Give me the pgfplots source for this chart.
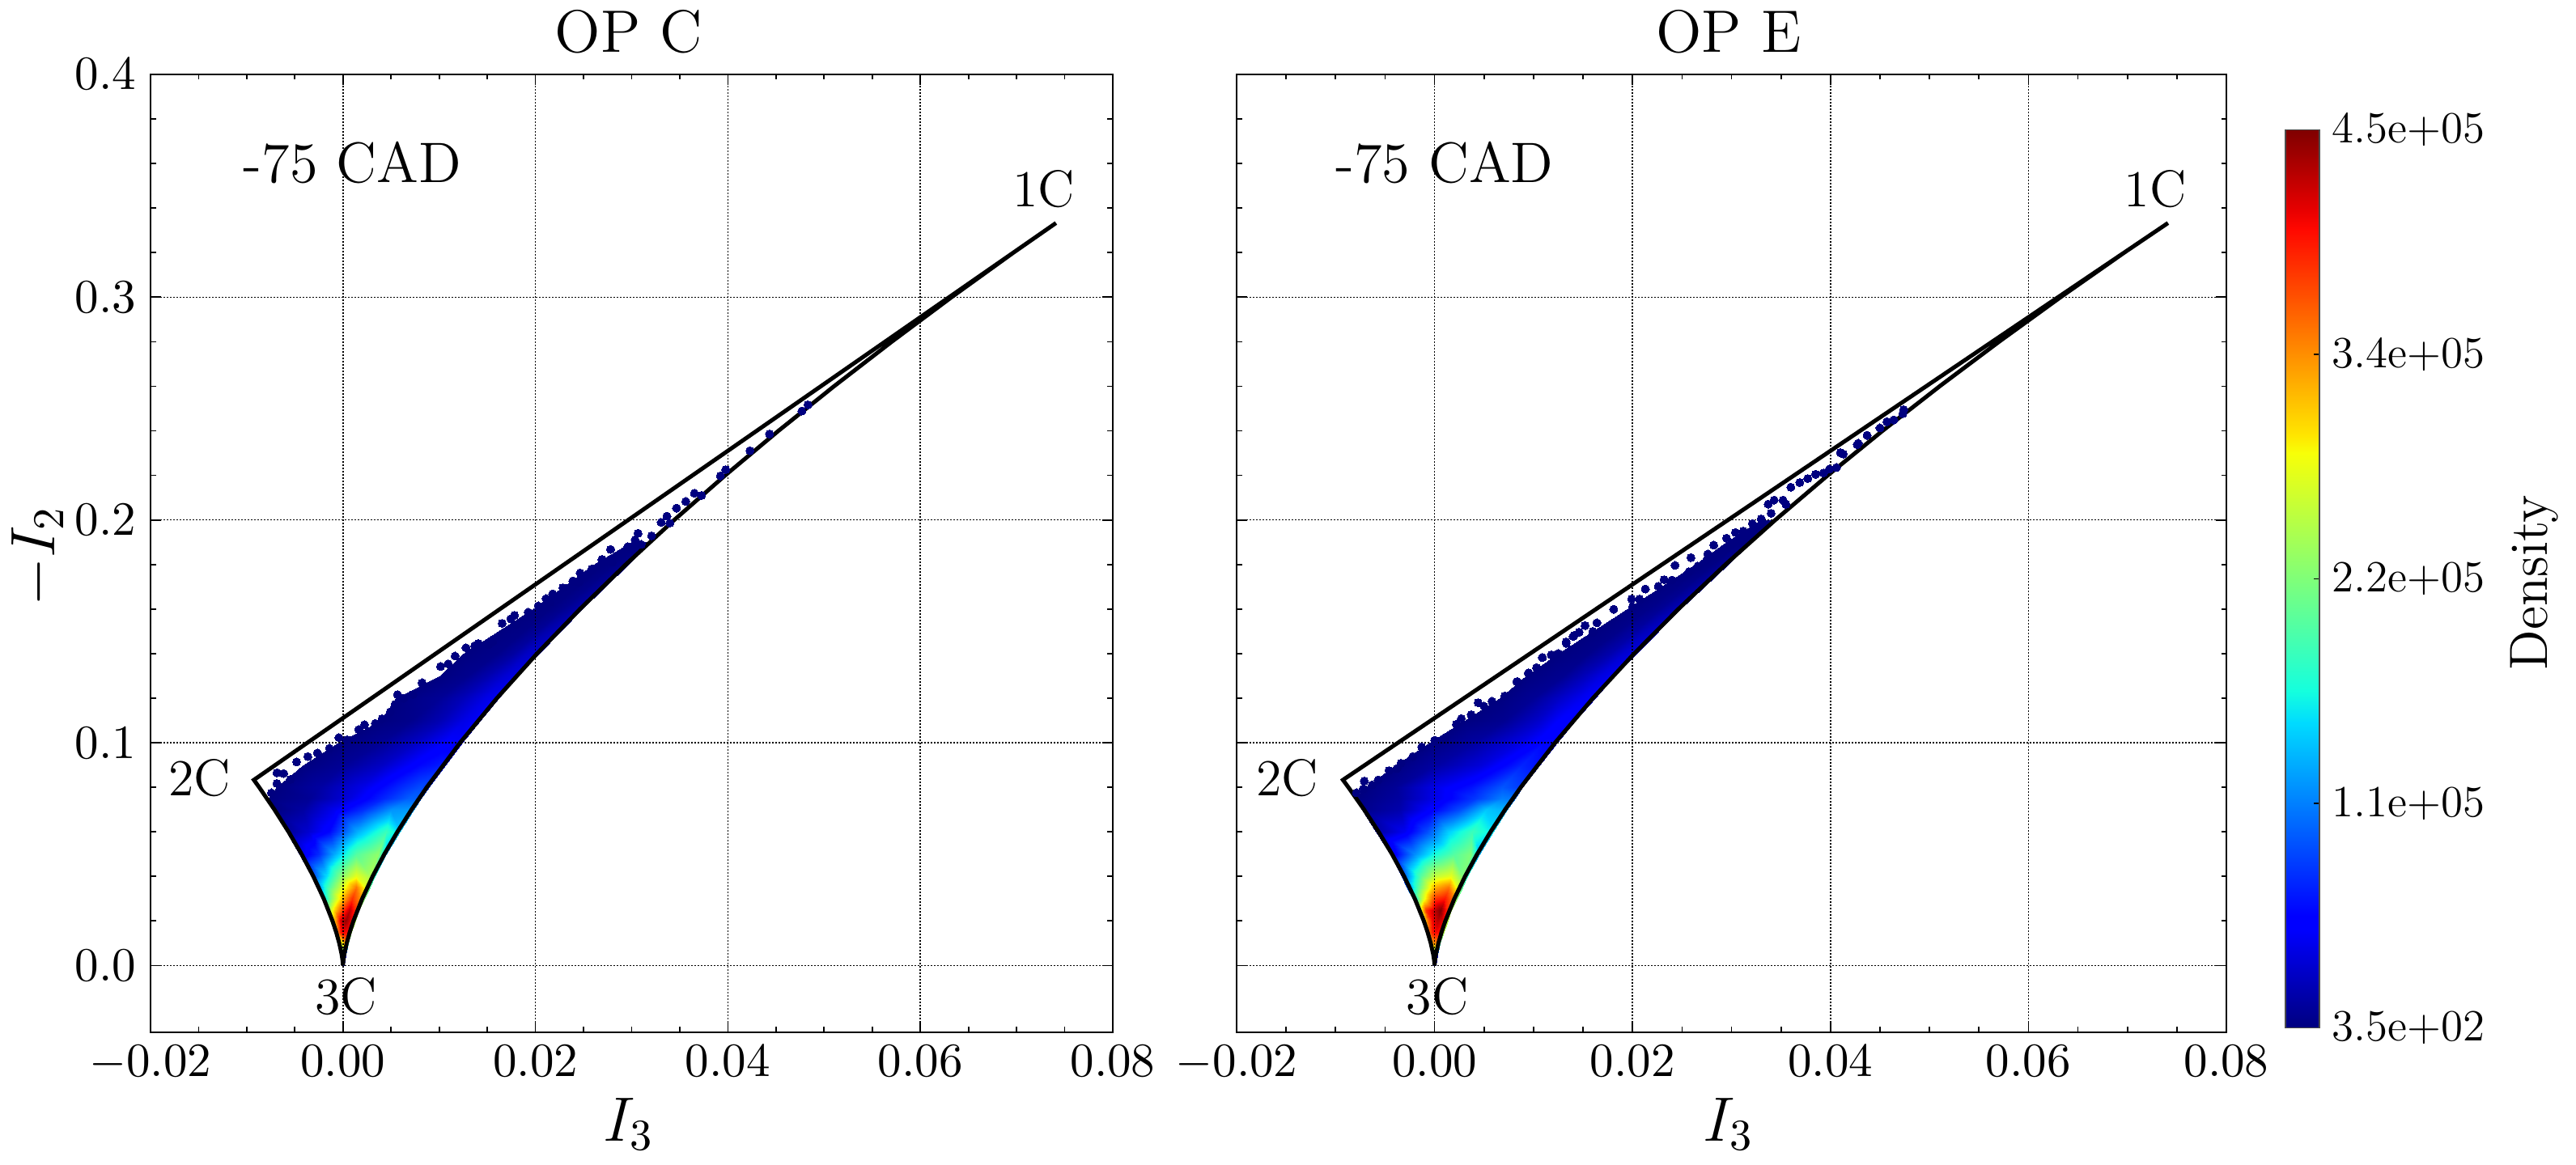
\RequirePackage{fix-cm}
\documentclass[border=0pt]{standalone}
\usepackage{pgfplots}
\pgfplotsset{compat=1.18}
\definecolor{cloud}{rgb}{0,0,0.5}
\newcommand{\fs}[1]{\fontsize{#1}{#1}\selectfont}
\pgfplotsset{colormap={mpljet}{rgb(0pt)=(0,0,0.5); rgb(11pt)=(0,0,1); rgb(12.5pt)=(0,0,1); rgb(34pt)=(0,0.86,1); rgb(37.5pt)=(0.08,1,0.87); rgb(64pt)=(0.97,1,0.03); rgb(66pt)=(1,0.9,0); rgb(89pt)=(1,0.03,0); rgb(91pt)=(0.91,0,0); rgb(100pt)=(0.5,0,0)}}
\pgfplotsset{panel/.style={
  scale only axis, height=236.8pt, xmin=-0.02, xmax=0.08, ymin=-0.03, ymax=0.4,
  scaled x ticks=false, scaled y ticks=false,
  xtick={-0.02,0,0.02,0.04,0.06,0.08},
  xticklabels={$-0.02$,$0.00$,$0.02$,$0.04$,$0.06$,$0.08$},
  ytick={0,0.1,0.2,0.3,0.4},
  minor x tick num=3, minor y tick num=4,
  tick align=inside, tick pos=both,
  major tick length=2.6pt, minor tick length=1.3pt,
  every tick/.style={black,line width=0.35pt},
  axis line style={line width=0.4pt},
  grid=major, major grid style={black,line width=0.3pt,dash pattern=on 0.4pt off 0.4pt},
  axis on top,
  tick label style={font=\fs{11.8}},
  x tick label style={yshift=0.2pt},
  colormap name=mpljet, point meta min=350, point meta max=450000,
  xlabel={$I_3$}, xlabel style={font=\fs{15.5},at={(axis description cs:0.497,-0.1132)},anchor=base},
  every axis title shift=0pt,
  title style={font=\fs{14.8},at={(axis description cs:0.497,1.0228)},anchor=base},
}, cloudmarks/.style={only marks, mark=*, mark size=1pt, cloud, mark options={draw=cloud,fill=cloud,line width=0pt}},
 mesh1/.style={surf, shader=interp, mesh/cols=6, point meta=explicit},
 bound/.style={black, line width=1pt, line join=miter, no marks, forget plot}}
\newcommand{\boundary}{\addplot[bound] coordinates {
 (0,0) (-0.0000344,0.002) (-0.000136,0.005) (-0.000385,0.01) (-0.000707,0.015) (-0.001089,0.02) (-0.002,0.03) (-0.003079,0.04) (-0.004303,0.05) (-0.005657,0.06) (-0.007128,0.07) (-0.008709,0.08) (-0.00926,0.0833)
 (0.0741,0.3333)
 (0.069675,0.32) (0.063246,0.30) (0.057027,0.28) (0.051028,0.26) (0.045255,0.24) (0.039717,0.22) (0.034427,0.20) (0.029394,0.18) (0.024634,0.16) (0.020162,0.14) (0.016,0.12) (0.012172,0.10) (0.008709,0.08) (0.007128,0.07) (0.005657,0.06) (0.004303,0.05) (0.003079,0.04) (0.002,0.03) (0.001089,0.02) (0.000707,0.015) (0.000385,0.01) (0.000136,0.005) (0.0000344,0.002) (0,0)};}
\newcommand{\panellabels}{
\node[font=\fs{14.1}] at (axis cs:0.0010,0.3602) {-75 CAD};
\node[font=\fs{12.8}] at (axis cs:0.0728,0.3484) {1C};
\node[font=\fs{12.8}] at (axis cs:-0.0149,0.0842) {2C};
\node[font=\fs{12.8}] at (axis cs:0.0003,-0.0140) {3C};
}
\begin{document}
\begin{tikzpicture}
\path[use as bounding box] (0,0) rectangle (636.6pt,288pt);
\begin{axis}[panel, width=237.8pt, at={(37.2pt,32.8pt)}, anchor=south west, title={OP C},
  yticklabels={$0.0$,$0.1$,$0.2$,$0.3$,$0.4$}]
\addplot[mesh1] table[row sep=\\,x=x,y=y,meta=d]{x y d\\
-0.0001 0 22500\\ -0.00006 0 22500\\ -0.00002 0 22500\\ 0.00002 0 22500\\ 0.00006 0 22500\\ 0.0001 0 22500\\
-0.0003 0.005 54000\\ -0.00015 0.005 180000\\ -0.00005 0.005 180000\\ 0.00005 0.005 180000\\ 0.00015 0.005 202500\\ 0.0003 0.005 67500\\
-0.00055 0.01 157500\\ -0.0003 0.01 270000\\ -0.0001 0.01 292500\\ 0.0001 0.01 315000\\ 0.0003 0.01 337500\\ 0.00055 0.01 202500\\
-0.0009 0.015 225000\\ -0.0005 0.015 360000\\ -0.0002 0.015 396000\\ 0.0001 0.015 405000\\ 0.0005 0.015 396000\\ 0.0009 0.015 247500\\
-0.0013 0.02 247500\\ -0.0007 0.02 337500\\ -0.0002 0.02 418500\\ 0.0003 0.02 441000\\ 0.0008 0.02 414000\\ 0.0013 0.02 247500\\
-0.00165 0.025 225000\\ -0.0009 0.025 306000\\ 0 0.025 382500\\ 0.0007 0.025 427500\\ 0.00125 0.025 382500\\ 0.00165 0.025 247500\\
-0.0022 0.03 135000\\ -0.0012 0.03 234000\\ 0 0.03 324000\\ 0.00098 0.03 382500\\ 0.00182 0.03 337500\\ 0.0022 0.03 225000\\
-0.0028 0.035 99000\\ -0.0017 0.035 189000\\ 0 0.035 279000\\ 0.0014 0.035 351000\\ 0.00238 0.035 279000\\ 0.0028 0.035 202500\\
-0.0033 0.04 81000\\ -0.0017 0.04 157500\\ -0.0003 0.04 225000\\ 0.0014 0.04 279000\\ 0.0028 0.04 247500\\ 0.0033 0.04 180000\\
-0.0045 0.05 36000\\ -0.0025 0.05 76500\\ -0.0008 0.05 135000\\ 0.0014 0.05 202500\\ 0.0036 0.05 234000\\ 0.0045 0.05 135000\\
-0.0059 0.06 9000\\ -0.0036 0.06 31500\\ -0.0014 0.06 58500\\ 0.0015 0.06 135000\\ 0.0045 0.06 189000\\ 0.0059 0.06 148500\\
-0.0073 0.07 350\\ -0.0042 0.07 13500\\ -0.0008 0.07 45000\\ 0.0020 0.07 76500\\ 0.0050 0.07 121500\\ 0.0073 0.07 126000\\
-0.0078 0.075 350\\ -0.0035 0.075 9000\\ 0.0005 0.075 36000\\ 0.0041 0.075 72000\\ 0.0068 0.075 99000\\ 0.0081 0.075 99000\\
-0.0069 0.08 350\\ -0.0024 0.08 13500\\ 0.0020 0.08 40500\\ 0.0062 0.08 76500\\ 0.0080 0.08 90000\\ 0.0089 0.08 81000\\
-0.0042 0.09 350\\ 0 0.09 9000\\ 0.0040 0.09 27000\\ 0.0080 0.09 58500\\ 0.0100 0.09 67500\\ 0.0106 0.09 63000\\
-0.0005 0.10 350\\ 0.0040 0.10 9000\\ 0.0075 0.10 27000\\ 0.0105 0.10 49500\\ 0.0120 0.10 49500\\ 0.0124 0.10 45000\\
0.0039 0.11 350\\ 0.0070 0.11 5000\\ 0.0100 0.11 20000\\ 0.0125 0.11 40000\\ 0.0138 0.11 47000\\ 0.0142 0.11 43000\\
0.0055 0.12 350\\ 0.0100 0.12 9000\\ 0.0125 0.12 22500\\ 0.0148 0.12 40500\\ 0.0158 0.12 45000\\ 0.0162 0.12 40500\\
0.0101 0.13 350\\ 0.0130 0.13 6000\\ 0.0150 0.13 18000\\ 0.0168 0.13 33000\\ 0.0178 0.13 38000\\ 0.0182 0.13 34000\\
0.0125 0.14 350\\ 0.0160 0.14 4500\\ 0.0177 0.14 13500\\ 0.0190 0.14 27000\\ 0.0200 0.14 31500\\ 0.0204 0.14 27000\\
0.0197 0.16 350\\ 0.0215 0.16 2000\\ 0.0228 0.16 6700\\ 0.0238 0.16 13500\\ 0.0245 0.16 18000\\ 0.0248 0.16 15000\\
0.0260 0.18 350\\ 0.0270 0.18 350\\ 0.0280 0.18 2000\\ 0.0288 0.18 4500\\ 0.0293 0.18 6700\\ 0.0296 0.18 4500\\
0.0300 0.19 350\\ 0.0305 0.19 350\\ 0.0310 0.19 350\\ 0.0314 0.19 350\\ 0.0318 0.19 350\\ 0.0320 0.19 350\\
};
\addplot[cloudmarks] coordinates {
(-0.00687,0.0865)(-0.00617,0.0862)(-0.00687,0.0817)(-0.00743,0.0775)(-0.00547,0.0835)(-0.00482,0.0914)(-0.00365,0.0938)(-0.00266,0.0954)(-0.0014,0.0975)(-0.00042,0.1023)(0.00042,0.1013)(0.00163,0.1059)(0.00224,0.1081)(0.00336,0.1087)(0.00407,0.1108)(0.00491,0.1138)(0.00541,0.1172)(0.00566,0.1216)(0.00631,0.1199)(0.00729,0.1217)(0.00822,0.1269)(0.01014,0.1342)(0.01094,0.1354)(0.01165,0.1389)(0.01279,0.1426)(0.01369,0.1435)(0.01405,0.1445)(0.01556,0.1453)(0.01654,0.1536)(0.01744,0.1556)(0.01783,0.1572)(0.01925,0.1586)(0.02030,0.1614)(0.02111,0.1647)(0.02180,0.1668)(0.02285,0.1696)(0.02390,0.1726)(0.02465,0.1762)(0.02586,0.1780)(0.02691,0.1823)(0.02781,0.1868)(0.02961,0.1880)(0.03036,0.1911)(0.03066,0.1940)(0.03207,0.1929)(0.03307,0.1989)(0.03367,0.2017)(0.03397,0.1986)(0.03466,0.2053)(0.03562,0.2083)(0.03652,0.2120)(0.03727,0.2110)(0.03922,0.2198)(0.03977,0.2226)(0.04229,0.2311)(0.04433,0.2386)(0.04769,0.2489)(0.04832,0.2517)
(0.0151,0.1440)(0.0180,0.1530)(0.0215,0.1630)(0.0245,0.1720)(0.0280,0.1810)(0.0310,0.1890)
};
\boundary
\panellabels
\end{axis}
\node[rotate=90,anchor=base,inner sep=0pt,font=\fs{15.5}] at (13.4pt,150.4pt) {$-I_2$};
\begin{axis}[panel, width=244.6pt, at={(305.6pt,32.8pt)}, anchor=south west, title={OP E},
  yticklabels={},
  colorbar, colorbar style={
    at={(parent axis.south east)}, anchor=south west, xshift=6pt, yshift=1.1pt,
    scale only axis, width=8.5pt, height=222pt,
    ytick={350,112800,225200,337600,450000},
    yticklabels={3.5e+02,1.1e+05,2.2e+05,3.4e+05,4.5e+05},
    minor y tick num=3, scaled y ticks=false,
    tick align=inside, yticklabel pos=right, ytick pos=right,
    major tick length=1.4pt, minor tick length=0.8pt,
    every tick/.style={black,line width=0.3pt},
    axis line style={line width=0.35pt,black!70},
    tick label style={font=\fs{11}},
    yticklabel style={anchor=west,xshift=-0.4pt},
  }]
\addplot[mesh1] table[row sep=\\,x=x,y=y,meta=d]{x y d\\
-0.0001 0 22500\\ -0.00006 0 22500\\ -0.00002 0 22500\\ 0.00002 0 22500\\ 0.00006 0 22500\\ 0.0001 0 22500\\
-0.0003 0.005 54000\\ -0.00015 0.005 180000\\ -0.00005 0.005 180000\\ 0.00005 0.005 180000\\ 0.00015 0.005 202500\\ 0.0003 0.005 67500\\
-0.00055 0.01 157500\\ -0.0003 0.01 292500\\ -0.0001 0.01 337500\\ 0.0001 0.01 337500\\ 0.0003 0.01 337500\\ 0.00055 0.01 202500\\
-0.0009 0.015 225000\\ -0.0005 0.015 360000\\ -0.0002 0.015 396000\\ 0.0001 0.015 405000\\ 0.0005 0.015 396000\\ 0.0009 0.015 247500\\
-0.0013 0.02 247500\\ -0.0007 0.02 351000\\ -0.0002 0.02 405000\\ 0.0003 0.02 427500\\ 0.0008 0.02 414000\\ 0.0013 0.02 247500\\
-0.00165 0.025 225000\\ -0.0009 0.025 382500\\ 0 0.025 427500\\ 0.0006 0.025 450000\\ 0.00125 0.025 382500\\ 0.00165 0.025 247500\\
-0.0022 0.03 135000\\ -0.0012 0.03 270000\\ 0 0.03 382500\\ 0.00098 0.03 396000\\ 0.00182 0.03 351000\\ 0.0022 0.03 225000\\
-0.0028 0.035 99000\\ -0.0017 0.035 202500\\ 0 0.035 324000\\ 0.0014 0.035 351000\\ 0.00238 0.035 270000\\ 0.0028 0.035 202500\\
-0.0033 0.04 81000\\ -0.0014 0.04 202500\\ 0 0.04 261000\\ 0.0017 0.04 279000\\ 0.0028 0.04 225000\\ 0.0033 0.04 180000\\
-0.0045 0.05 36000\\ -0.0019 0.05 121500\\ 0 0.05 171000\\ 0.0019 0.05 202500\\ 0.0036 0.05 225000\\ 0.0045 0.05 135000\\
-0.0059 0.06 13500\\ -0.0030 0.06 45000\\ -0.0008 0.06 90000\\ 0.0014 0.06 148500\\ 0.0038 0.06 189000\\ 0.0059 0.06 157500\\
-0.0073 0.07 4500\\ -0.0035 0.07 18000\\ -0.0003 0.07 54000\\ 0.0025 0.07 90000\\ 0.0052 0.07 144000\\ 0.0073 0.07 135000\\
-0.0080 0.075 350\\ -0.0035 0.075 13500\\ 0.0005 0.075 45000\\ 0.0041 0.075 81000\\ 0.0068 0.075 112500\\ 0.0081 0.075 108000\\
-0.0070 0.08 350\\ -0.0040 0.08 9000\\ 0.0006 0.08 45000\\ 0.0036 0.08 63000\\ 0.0068 0.08 94500\\ 0.0089 0.08 81000\\
-0.0040 0.09 350\\ 0 0.09 13500\\ 0.0047 0.09 36000\\ 0.0088 0.09 72000\\ 0.0104 0.09 63000\\ 0.0106 0.09 58500\\
-0.0005 0.10 350\\ 0.0040 0.10 13500\\ 0.0088 0.10 40500\\ 0.0110 0.10 58500\\ 0.0120 0.10 58500\\ 0.0124 0.10 54000\\
0.0030 0.11 350\\ 0.0070 0.11 7000\\ 0.0105 0.11 30000\\ 0.0125 0.11 50000\\ 0.0138 0.11 54000\\ 0.0142 0.11 50000\\
0.0066 0.12 350\\ 0.0100 0.12 9000\\ 0.0125 0.12 27000\\ 0.0148 0.12 45000\\ 0.0158 0.12 49500\\ 0.0162 0.12 45000\\
0.0093 0.13 350\\ 0.0130 0.13 7000\\ 0.0150 0.13 22000\\ 0.0168 0.13 38000\\ 0.0178 0.13 43000\\ 0.0182 0.13 40000\\
0.0125 0.14 350\\ 0.0155 0.14 4500\\ 0.0177 0.14 18000\\ 0.0190 0.14 31500\\ 0.0200 0.14 36000\\ 0.0204 0.14 31500\\
0.0194 0.16 350\\ 0.0215 0.16 4500\\ 0.0228 0.16 9000\\ 0.0238 0.16 18000\\ 0.0245 0.16 22500\\ 0.0248 0.16 18000\\
0.0263 0.18 350\\ 0.0270 0.18 350\\ 0.0280 0.18 2000\\ 0.0288 0.18 6700\\ 0.0293 0.18 9000\\ 0.0296 0.18 6700\\
0.0295 0.19 350\\ 0.0302 0.19 350\\ 0.0308 0.19 350\\ 0.0314 0.19 350\\ 0.0318 0.19 1000\\ 0.0320 0.19 1000\\
0.0329 0.20 350\\ 0.0332 0.20 350\\ 0.0335 0.20 350\\ 0.0338 0.20 350\\ 0.0342 0.20 350\\ 0.0345 0.20 350\\
};
\addplot[cloudmarks] coordinates {
(-0.0079,0.0775)(-0.0072,0.0793)(-0.0071,0.0828)(-0.0063,0.0811)(-0.0057,0.0833)(-0.0046,0.0875)(-0.0038,0.0884)(-0.0034,0.0908)(-0.0022,0.0938)(-0.0013,0.0981)(0,0.1011)(0.0011,0.1023)(0.0022,0.1083)(0.0027,0.1108)(0.0037,0.1126)(0.0044,0.118)(0.0050,0.1164)(0.0058,0.1186)(0.0071,0.1210)(0.0084,0.1273)(0.0095,0.1310)(0.0103,0.1337)(0.0109,0.1382)(0.0118,0.1394)(0.0133,0.1446)(0.0141,0.1482)(0.0160,0.1495)
(0.0083,0.1274)(0.0095,0.1314)(0.0109,0.1383)(0.0118,0.1395)(0.0133,0.1453)(0.0140,0.1477)(0.0146,0.1496)(0.0152,0.1526)(0.0164,0.1538)(0.0181,0.1599)(0.0199,0.1645)(0.0207,0.1645)(0.0213,0.1690)(0.0226,0.1702)(0.0232,0.1732)(0.0243,0.1796)(0.0259,0.1831)(0.0257,0.1768)(0.0266,0.1793)(0.0276,0.1847)(0.0282,0.1887)(0.0295,0.1918)(0.0304,0.1944)(0.0312,0.1950)(0.0321,0.1984)(0.0330,0.2005)(0.0337,0.2071)(0.0343,0.2089)(0.0352,0.2089)(0.0360,0.2147)(0.0369,0.2168)(0.0377,0.2186)(0.0385,0.2205)(0.0393,0.2211)(0.0399,0.2229)(0.0406,0.2235)(0.0410,0.2302)(0.0413,0.2296)(0.0427,0.2338)(0.0428,0.2344)(0.0437,0.2380)(0.0450,0.2413)(0.0457,0.2441)(0.0464,0.2449)(0.0474,0.2495)(0.0473,0.2477)
(0.0125,0.1400)(0.0160,0.1500)(0.0200,0.1610)(0.0240,0.1730)(0.0275,0.1820)(0.0310,0.1920)(0.0340,0.2030)(0.0355,0.2070)
};
\boundary
\panellabels
\end{axis}
\node[rotate=90,font=\fs{13.3}] at (626.4pt,144pt) {Density};
\end{tikzpicture}
\end{document}
